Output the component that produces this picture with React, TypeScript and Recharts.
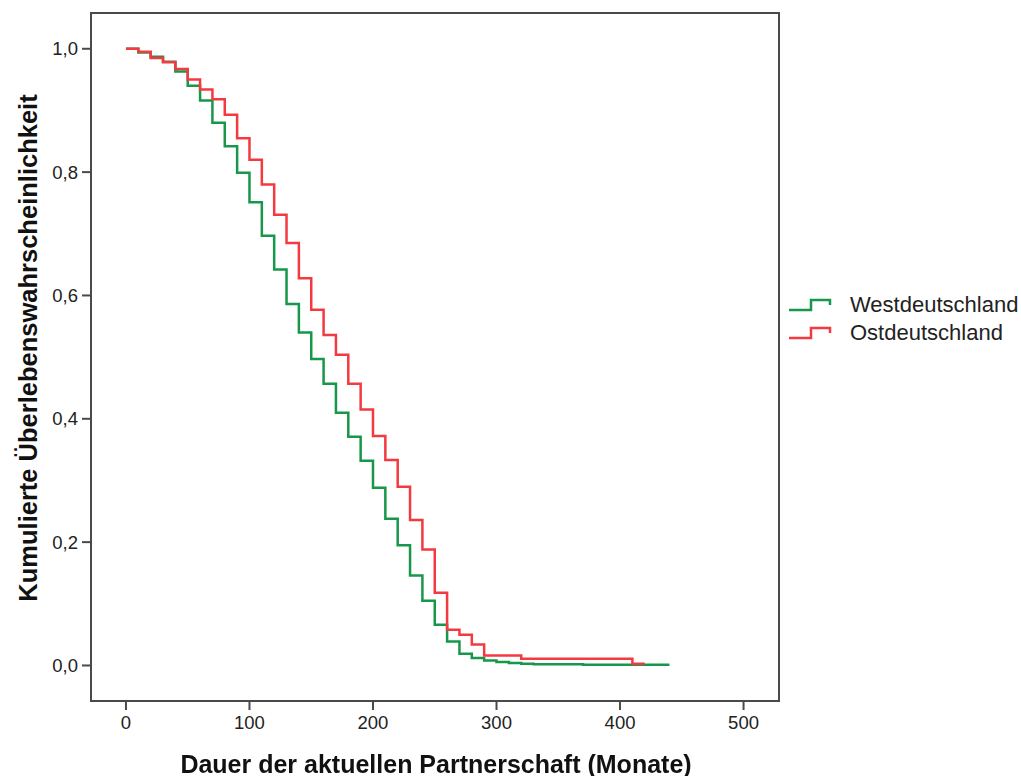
import { LineChart, Line, XAxis, YAxis, ReferenceArea } from "recharts";

// Monate (Intervallgrenzen der Sterbetafel)
const months = [
  0, 10, 20, 30, 40, 50, 60, 70, 80, 90, 100, 110, 120, 130, 140, 150, 160,
  170, 180, 190, 200, 210, 220, 230, 240, 250, 260, 270, 280, 290, 300, 310,
  320, 330, 340, 350, 360, 370, 380, 390, 400, 410, 420, 430, 440,
];

const west = [
  1.0, 0.994, 0.987, 0.979, 0.963, 0.94, 0.916, 0.88, 0.842, 0.799, 0.751,
  0.697, 0.642, 0.586, 0.54, 0.497, 0.457, 0.41, 0.371, 0.332, 0.288, 0.238,
  0.195, 0.146, 0.105, 0.066, 0.039, 0.019, 0.012, 0.008, 0.0055, 0.004,
  0.003, 0.002, 0.002, 0.002, 0.002, 0.001, 0.001, 0.001, 0.001, 0.001,
  0.001, 0.001, 0.001,
];

const east = [
  1.0, 0.995, 0.985, 0.978, 0.967, 0.95, 0.934, 0.918, 0.893, 0.855, 0.82,
  0.78, 0.731, 0.685, 0.628, 0.577, 0.536, 0.504, 0.457, 0.415, 0.372, 0.333,
  0.29, 0.236, 0.188, 0.118, 0.058, 0.05, 0.034, 0.016, 0.016, 0.016, 0.011,
  0.011, 0.011, 0.011, 0.011, 0.011, 0.011, 0.011, 0.011, 0.003, 0.003,
];

const xTicks = [0, 100, 200, 300, 400, 500];
const yTicks = [0, 0.2, 0.4, 0.6, 0.8, 1.0];

const GREEN = "#17974a";
const RED = "#f23a40";
const FRAME = "#4a4a4a";

const XMIN = -28.3;
const XMAX = 528.7;
const YMIN = -0.0576;
const YMAX = 1.058;

const data = months.map((m, i) => ({
  m,
  west: west[i],
  east: i < east.length ? east[i] : null,
}));

const font = "'Liberation Sans', Arial, sans-serif";

function StepIcon({ color }: { color: string }) {
  return (
    <svg width={44} height={16} style={{ display: "block" }}>
      <path
        d="M1 13 H23 V3 H42 V8"
        fill="none"
        stroke={color}
        strokeWidth={2.5}
      />
    </svg>
  );
}

export default function App() {
  return (
    <div
      style={{
        position: "fixed",
        left: 0,
        top: 0,
        width: 1021,
        height: 776,
        background: "#fff",
        fontFamily: font,
      }}
    >
      <LineChart
        width={1021}
        height={776}
        data={data}
        margin={{ top: 13, right: 242, left: 0, bottom: 0 }}
      >
        <XAxis
          dataKey="m"
          type="number"
          domain={[XMIN, XMAX]}
          ticks={xTicks}
          allowDataOverflow
          height={75}
          tickSize={9}
          tickMargin={6}
          stroke={FRAME}
          strokeWidth={2}
          tick={{ fill: "#222", fontSize: 18.5, fontFamily: font }}
        />
        <YAxis
          type="number"
          domain={[YMIN, YMAX]}
          ticks={yTicks}
          allowDataOverflow
          width={91}
          tickSize={9}
          tickMargin={4}
          stroke={FRAME}
          strokeWidth={2}
          tickFormatter={(v: number) => v.toFixed(1).replace(".", ",")}
          tick={{ fill: "#222", fontSize: 18.5, fontFamily: font }}
        />
        <ReferenceArea
          x1={XMIN}
          x2={XMAX}
          y1={YMIN}
          y2={YMAX}
          fill="none"
          stroke={FRAME}
          strokeWidth={2}
          ifOverflow="visible"
        />
        <Line
          dataKey="west"
          type="stepAfter"
          stroke={GREEN}
          strokeWidth={2.5}
          dot={false}
          isAnimationActive={false}
        />
        <Line
          dataKey="east"
          type="stepAfter"
          stroke={RED}
          strokeWidth={2.5}
          dot={false}
          isAnimationActive={false}
        />
      </LineChart>

      <div
        style={{
          position: "absolute",
          left: 436,
          top: 764,
          transform: "translate(-50%, -50%)",
          fontSize: 25,
          fontWeight: "bold",
          color: "#111",
          whiteSpace: "nowrap",
        }}
      >
        Dauer der aktuellen Partnerschaft (Monate)
      </div>
      <div
        style={{
          position: "absolute",
          left: 28,
          top: 348,
          transform: "translate(-50%, -50%) rotate(-90deg)",
          fontSize: 25.5,
          fontWeight: "bold",
          color: "#111",
          whiteSpace: "nowrap",
        }}
      >
        Kumulierte Überlebenswahrscheinlichkeit
      </div>

      <div
        style={{
          position: "absolute",
          left: 788,
          top: 291,
          fontSize: 22,
          color: "#222",
          lineHeight: "28px",
        }}
      >
        {[
          { label: "Westdeutschland", color: GREEN },
          { label: "Ostdeutschland", color: RED },
        ].map((it) => (
          <div key={it.label} style={{ display: "flex", alignItems: "center" }}>
            <StepIcon color={it.color} />
            <span style={{ marginLeft: 18 }}>{it.label}</span>
          </div>
        ))}
      </div>
    </div>
  );
}
